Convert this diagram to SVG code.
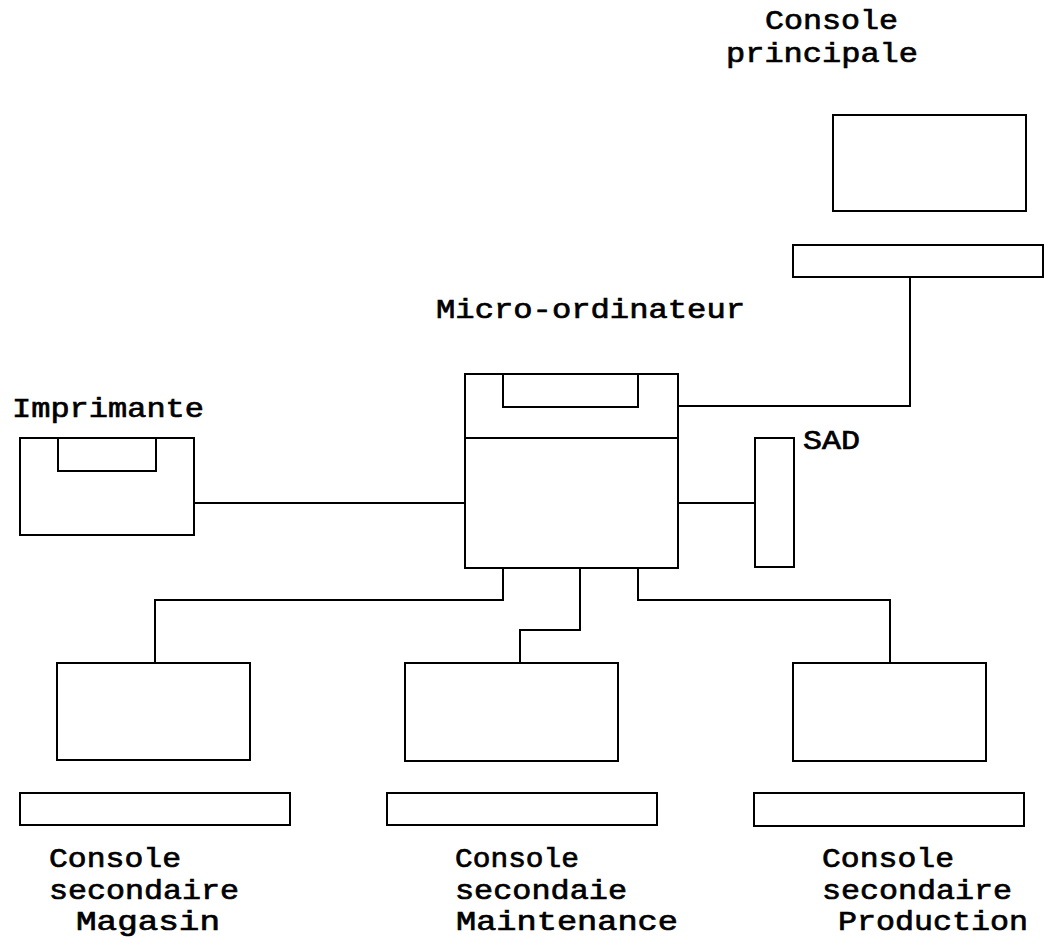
<svg xmlns="http://www.w3.org/2000/svg" width="1050" height="938" viewBox="0 0 1050 938">
<style>
.b{fill:#fff;stroke:#000;stroke-width:2}
.c{fill:none;stroke:#000;stroke-width:2}
text{font-family:"Liberation Mono","Courier New",monospace;font-size:28px;fill:#000;stroke:#000;stroke-width:0.7}
</style>
<rect width="1050" height="938" fill="#fff"/>
<g id="connectors">
<polyline class="c" points="910,277 910,406 678,406"/>
<line class="c" x1="194" y1="503" x2="465" y2="503"/>
<line class="c" x1="678" y1="503" x2="755" y2="503"/>
<polyline class="c" points="503,568 503,600 155,600 155,663"/>
<polyline class="c" points="580,568 580,630 520,630 520,663"/>
<polyline class="c" points="638,568 638,600 890,600 890,663"/>
</g>
<g id="console-principale">
<text x="765" y="29" textLength="133" lengthAdjust="spacingAndGlyphs">Console</text>
<text x="726" y="62" textLength="192" lengthAdjust="spacingAndGlyphs">principale</text>
<rect class="b" x="833" y="115" width="193" height="96"/>
<rect class="b" x="793" y="245" width="250" height="32"/>
</g>
<g id="micro-ordinateur">
<text x="436" y="318" textLength="309" lengthAdjust="spacingAndGlyphs">Micro-ordinateur</text>
<rect class="b" x="465" y="374" width="213" height="194"/>
<line class="c" x1="465" y1="438" x2="678" y2="438"/>
<rect class="b" x="503" y="374" width="135" height="33"/>
</g>
<g id="imprimante">
<text x="12" y="417" textLength="192" lengthAdjust="spacingAndGlyphs">Imprimante</text>
<rect class="b" x="20" y="438" width="174" height="97"/>
<rect class="b" x="58" y="438" width="98" height="33"/>
</g>
<g id="sad">
<text x="803" y="449" textLength="57" lengthAdjust="spacingAndGlyphs">SAD</text>
<rect class="b" x="755" y="438" width="39" height="129"/>
</g>
<g id="console-magasin">
<rect class="b" x="57" y="663" width="193" height="97"/>
<rect class="b" x="20" y="793" width="270" height="32"/>
<text x="49" y="867" textLength="132" lengthAdjust="spacingAndGlyphs">Console</text>
<text x="49" y="899" textLength="190" lengthAdjust="spacingAndGlyphs">secondaire</text>
<text x="76" y="930" textLength="144" lengthAdjust="spacingAndGlyphs">Magasin</text>
</g>
<g id="console-maintenance">
<rect class="b" x="405" y="663" width="213" height="98"/>
<rect class="b" x="387" y="793" width="270" height="32"/>
<text x="455" y="867" textLength="124" lengthAdjust="spacingAndGlyphs">Console</text>
<text x="455" y="899" textLength="172" lengthAdjust="spacingAndGlyphs">secondaie</text>
<text x="456" y="930" textLength="222" lengthAdjust="spacingAndGlyphs">Maintenance</text>
</g>
<g id="console-production">
<rect class="b" x="793" y="663" width="193" height="98"/>
<rect class="b" x="754" y="793" width="270" height="33"/>
<text x="822" y="867" textLength="132" lengthAdjust="spacingAndGlyphs">Console</text>
<text x="822" y="899" textLength="190" lengthAdjust="spacingAndGlyphs">secondaire</text>
<text x="838" y="930" textLength="190" lengthAdjust="spacingAndGlyphs">Production</text>
</g>
</svg>
